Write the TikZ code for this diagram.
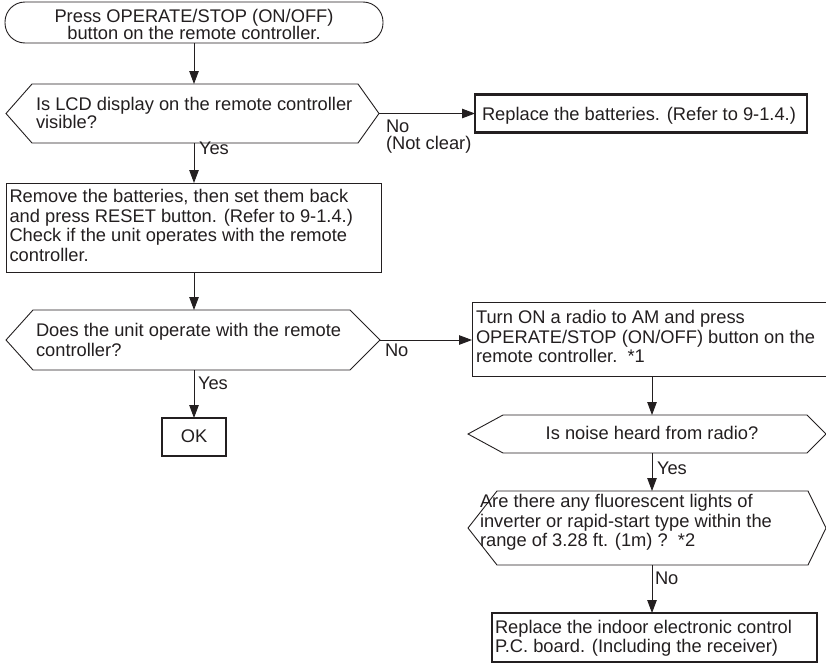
\documentclass[tikz,border=0pt]{standalone}
\usepackage{fontspec}
\setmainfont{Liberation Sans}
\usetikzlibrary{arrows.meta}
\definecolor{ink}{HTML}{231F20}
\begin{document}
\begin{tikzpicture}[x=1pt,y=-1pt,
  every node/.style={font=\fontsize{18.3}{19.4}\selectfont, text=ink, inner sep=0pt, outer sep=0pt},
  thinbox/.style={draw=ink, line width=0.9pt},
  thickbox/.style={draw=ink, line width=2.5pt},
  hexline/.style={draw=ink, line width=0.9pt, line join=miter},
  arr/.style={draw=ink, line width=0.9pt, -{Triangle[length=13pt,width=9.5pt]}},
  txt/.style={align=left, anchor=west},
  lbl/.style={anchor=base west}]
\clip (0,0) rectangle (826,664);
\fill[white] (0,0) rectangle (826,664);
% column axes
\coordinate (lc) at (194,0);
\coordinate (rc) at (652,0);
% shapes
\node[thinbox, rounded corners=20pt, minimum width=378pt, minimum height=41pt] (tb) at (194,22.5) {};
\node[minimum width=373pt, minimum height=59pt] (h1) at (192.5,113.5) {};
\node[thickbox, minimum width=332pt, minimum height=38pt] (b1) at (641,113.5) {};
\node[thinbox, minimum width=375pt, minimum height=89pt] (b2) at (193.5,227.5) {};
\node[minimum width=374pt, minimum height=60pt] (h2) at (193,340) {};
\node[thickbox, minimum width=64pt, minimum height=38pt] (ok) at (194,437) {};
\node[thinbox, minimum width=378pt, minimum height=74pt] (b5) at (661,339) {};
\node[minimum width=358pt, minimum height=38pt] (h3) at (647,434) {};
\node[minimum width=358pt, minimum height=74pt] (h4) at (647,528) {};
\node[thickbox, minimum width=325pt, minimum height=49pt] (b6) at (654.5,637.5) {};
% hexagon outlines
\draw[hexline] (h1.west) -- ([xshift=26pt]h1.north west) -- ([xshift=-21pt]h1.north east) -- (h1.east)
  -- ([xshift=-21pt]h1.south east) -- ([xshift=26pt]h1.south west) -- cycle;
\draw[hexline] (h2.west) -- ([xshift=27pt]h2.north west) -- ([xshift=-30pt]h2.north east) -- (h2.east)
  -- ([xshift=-30pt]h2.south east) -- ([xshift=27pt]h2.south west) -- cycle;
\draw[hexline] (h3.west) -- ([xshift=35pt]h3.north west) -- ([xshift=-19pt]h3.north east) -- (h3.east)
  -- ([xshift=-19pt]h3.south east) -- ([xshift=35pt]h3.south west) -- cycle;
\draw[hexline] (h4.west) -- ([xshift=29pt]h4.north west) -- ([xshift=-18pt]h4.north east) -- (h4.east)
  -- ([xshift=-18pt]h4.south east) -- ([xshift=29pt]h4.south west) -- cycle;
% texts
\node[align=center] (ttb) at (194,24.5) {Press OPERATE/STOP (ON/OFF)\\[-3pt]button on the remote controller.};
\node[txt] (th1) at (36,113) {Is LCD display on the remote controller\\[-0.5pt]visible?};
\node[txt] (tb1) at (482,116) {Replace the batteries. (Refer to 9-1.4.)};
\node[txt] (tb2) at (9.5,225.5) {Remove the batteries, then set them back\\and press RESET button. (Refer to 9-1.4.)\\Check if the unit operates with the remote\\controller.};
\node[txt] (th2) at (36,340) {Does the unit operate with the remote\\controller?};
\node (tok) at (194,436.5) {OK};
\node[txt] (tb5) at (476,336.5) {Turn ON a radio to AM and press\\OPERATE/STOP (ON/OFF) button on the\\remote controller.~~*1};
\node (th3) at (652,432.5) {Is noise heard from radio?};
\node[txt] (th4) at (480,522.5) {Are there any fluorescent lights of\\inverter or rapid-start type within the\\range of 3.28 ft. (1m) ?~~*2};
\node[txt] (tb6) at (495,638.5) {Replace the indoor electronic control\\P.C. board. (Including the receiver)};
% connectors
\draw[arr] (tb.south -| lc) -- (h1.north -| lc);
\draw[arr] (h1.east) -- (h1.east -| b1.west);
\draw[arr] (h1.south -| lc) -- (b2.north -| lc);
\draw[arr] (b2.south -| lc) -- (h2.north -| lc);
\draw[arr] (h2.east) -- (h2.east -| b5.west);
\draw[arr] (h2.south -| lc) -- (ok.north -| lc);
\draw[arr] (b5.south -| rc) -- (h3.north -| rc);
\draw[arr] (h3.south -| rc) -- (h4.north -| rc);
\draw[arr] (h4.south -| rc) -- (b6.north -| rc);
% connector labels
\node[lbl] (l1) at (386,132) {No};
\node[lbl] (l2) at (386,149) {(Not clear)};
\node[lbl] (l3) at (199,154) {Yes};
\node[lbl] (l4) at (385,356) {No};
\node[lbl] (l5) at (198,389) {Yes};
\node[lbl] (l6) at (657,474) {Yes};
\node[lbl] (l7) at (655,584) {No};
\end{tikzpicture}
\end{document}
